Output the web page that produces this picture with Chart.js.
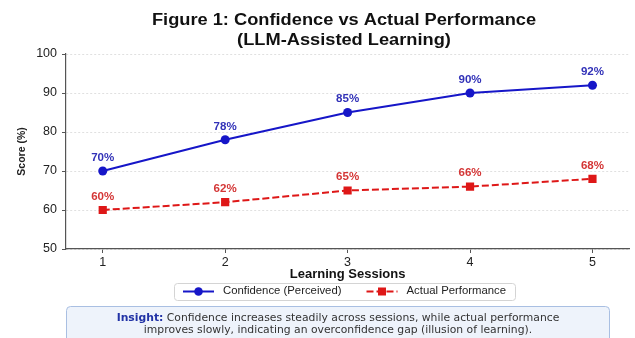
<!DOCTYPE html>
<html>
<head>
<meta charset="utf-8">
<script src="https://cdn.jsdelivr.net/npm/chart.js@4.4.1/dist/chart.umd.min.js"></script>
<style>
    html, body { margin: 0; padding: 0; background: #fff; }
</style>
</head>
<body>
<canvas id="chart" width="635" height="338"></canvas>
<script>
const sessions = [1, 2, 3, 4, 5];
const confidence = [70, 78, 85, 90, 92];
const actual = [60, 62, 65, 66, 68];
const yTicks = [50, 60, 70, 80, 90, 100];
const seriesLabels = ['Confidence (Perceived)', 'Actual Performance'];
const titleLines = ['Figure 1: Confidence vs Actual Performance', '(LLM-Assisted Learning)'];
const insightLead = 'Insight:';
const insightLines = [
    ' Confidence increases steadily across sessions, while actual performance',
    'improves slowly, indicating an overconfidence gap (illusion of learning).'
];

const FONT = '"Liberation Sans", Arial, sans-serif';
const NOTE_FONT = '"DejaVu Sans", sans-serif';
const BLUE = '#1616c8';
const RED = '#de1717';
const LABEL_COLORS = ['#3232b8', '#d43636'];

// the reference text is drawn a little wider than it is tall
function wideText(ctx, text, x, y, font, color, align, sx) {
    ctx.save();
    ctx.font = font;
    ctx.fillStyle = color;
    ctx.textBaseline = 'middle';
    ctx.textAlign = 'left';
    const w = ctx.measureText(text).width * sx;
    let left = x;
    if (align === 'center') left = x - w / 2;
    else if (align === 'right') left = x - w;
    ctx.translate(left, y);
    ctx.scale(sx, 1);
    ctx.fillText(text, 0, 0);
    ctx.restore();
    return w;
}

function textWidth(ctx, text, font, sx) {
    ctx.save();
    ctx.font = font;
    const w = ctx.measureText(text).width * sx;
    ctx.restore();
    return w;
}

function roundBox(ctx, x, y, w, h, r, fill, stroke) {
    ctx.save();
    ctx.beginPath();
    ctx.roundRect(x, y, w, h, r);
    ctx.fillStyle = fill;
    ctx.fill();
    ctx.lineWidth = 1;
    ctx.strokeStyle = stroke;
    ctx.stroke();
    ctx.restore();
}

function drawMarker(ctx, style, x, y, color) {
    ctx.save();
    ctx.fillStyle = color;
    ctx.beginPath();
    if (style === 'circle') {
        ctx.arc(x, y, 4.3, 0, Math.PI * 2);
    } else {
        ctx.rect(x - 4, y - 4, 8, 8);
    }
    ctx.fill();
    ctx.restore();
}

const titlePlugin = {
    id: 'figureTitle',
    afterDraw(chart) {
        const ctx = chart.ctx;
        titleLines.forEach((line, i) => {
            wideText(ctx, line, 344, 20.5 + i * 20, 'bold 16px ' + FONT, '#111', 'center', 1.14);
        });
    }
};

const pointLabels = {
    id: 'pointLabels',
    afterDatasetsDraw(chart) {
        const ctx = chart.ctx;
        chart.data.datasets.forEach((ds, i) => {
            chart.getDatasetMeta(i).data.forEach((pt, j) => {
                wideText(ctx, ds.data[j].y + '%', pt.x, pt.y - 13, 'bold 10.5px ' + FONT, LABEL_COLORS[i], 'center', 1.1);
            });
        });
    }
};

const boxLegend = {
    id: 'boxLegend',
    afterDraw(chart) {
        const ctx = chart.ctx;
        const font = '10.5px ' + FONT;
        const y = 291.5;
        roundBox(ctx, 174.5, 283.5, 341, 17, 3, '#fff', '#d4d4d4');
        let x = 183;
        chart.data.datasets.forEach((ds, i) => {
            ctx.save();
            ctx.strokeStyle = ds.borderColor;
            ctx.lineWidth = 2;
            ctx.setLineDash(ds.borderDash || []);
            ctx.beginPath();
            ctx.moveTo(x, y);
            ctx.lineTo(x + 31, y);
            ctx.stroke();
            ctx.restore();
            drawMarker(ctx, ds.pointStyle, x + 15.5, y, ds.borderColor);
            const w = wideText(ctx, ds.label, x + 40, y, font, '#222', 'left', 1.08);
            x += 40 + w + 25;
        });
    }
};

const insightBox = {
    id: 'insightBox',
    afterDraw(chart) {
        const ctx = chart.ctx;
        const boldFont = 'bold 10.8px ' + NOTE_FONT;
        const font = '10.8px ' + NOTE_FONT;
        const cx = 338;
        roundBox(ctx, 66.5, 306.5, 543, 40, 4, '#eef3fb', '#a9bfe2');
        const leadW = textWidth(ctx, insightLead, boldFont, 1);
        const restW = textWidth(ctx, insightLines[0], font, 1);
        const left = cx - (leadW + restW) / 2;
        wideText(ctx, insightLead, left, 318, boldFont, '#2233a6', 'left', 1);
        wideText(ctx, insightLines[0], left + leadW, 318, font, '#333', 'left', 1);
        wideText(ctx, insightLines[1], cx, 330, font, '#333', 'center', 1);
    }
};

const chart = new Chart(document.getElementById('chart'), {
    type: 'line',
    data: {
        datasets: [
            {
                label: seriesLabels[0],
                data: sessions.map((s, i) => ({x: s, y: confidence[i]})),
                borderColor: BLUE,
                backgroundColor: BLUE,
                borderWidth: 2,
                pointStyle: 'circle',
                pointRadius: 4.5,
                pointBorderWidth: 0,
                tension: 0
            },
            {
                label: seriesLabels[1],
                data: sessions.map((s, i) => ({x: s, y: actual[i]})),
                borderColor: RED,
                backgroundColor: RED,
                borderWidth: 2,
                borderDash: [7, 3],
                pointStyle: 'rect',
                pointRadius: 5.8,
                pointBorderWidth: 0,
                tension: 0
            }
        ]
    },
    options: {
        responsive: false,
        animation: false,
        events: [],
        layout: {padding: {left: 0, right: 0, top: 54, bottom: 56}},
        plugins: {
            legend: {display: false},
            title: {display: false},
            tooltip: {enabled: false}
        },
        scales: {
            x: {
                type: 'linear',
                min: 0.7,
                max: 5.3,
                afterBuildTicks: (scale) => {
                    scale.ticks = sessions.map(v => ({value: v}));
                },
                afterFit: (scale) => {
                    scale.height = 33;
                },
                grid: {drawOnChartArea: false, tickLength: 4, tickColor: '#555', tickWidth: 1},
                border: {color: '#555', width: 1.2},
                ticks: {font: {family: FONT, size: 12.5}, color: '#222', padding: 2},
                title: {
                    display: true,
                    text: 'Learning Sessions',
                    font: {family: FONT, size: 13, weight: 'bold'},
                    color: '#111',
                    padding: {top: 0, bottom: 0}
                }
            },
            y: {
                min: 50,
                max: 100,
                afterBuildTicks: (scale) => {
                    scale.ticks = yTicks.map(v => ({value: v}));
                },
                afterFit: (scale) => {
                    scale.width = 66;
                },
                grid: {color: '#d8d8d8', lineWidth: 0.8, tickLength: 4, tickColor: '#555', tickWidth: 1},
                border: {color: '#555', width: 1.2, dash: [2, 2]},
                ticks: {font: {family: FONT, size: 12.5}, color: '#222', padding: 5},
                title: {
                    display: true,
                    text: 'Score (%)',
                    font: {family: FONT, size: 10.5, weight: 'bold'},
                    color: '#222',
                    padding: {top: 16, bottom: 0}
                }
            }
        }
    },
    plugins: [titlePlugin, pointLabels, boxLegend, insightBox]
});
</script>
</body>
</html>
